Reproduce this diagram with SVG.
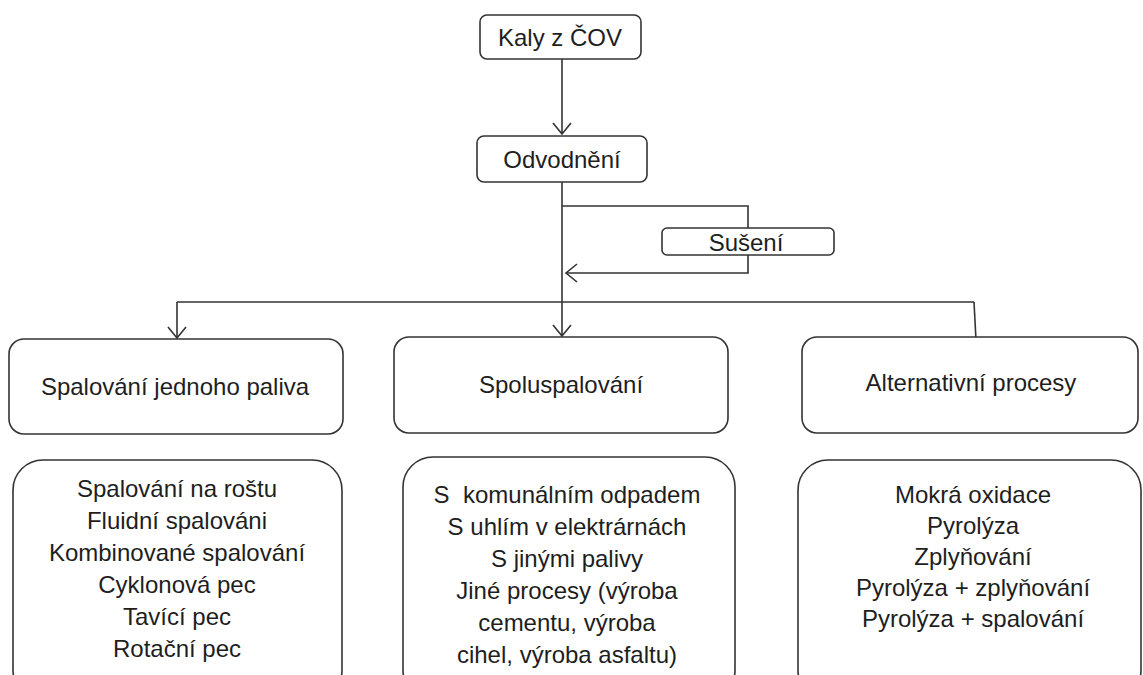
<svg xmlns="http://www.w3.org/2000/svg" width="1143" height="675" viewBox="0 0 1143 675">
<style>
.box{fill:#fff;stroke:#333;stroke-width:1.6}
.t{font-family:"Liberation Sans",Arial,sans-serif;font-size:24px;fill:#1e1e1e;text-anchor:middle}
.c{fill:none;stroke:#333;stroke-width:1.6}
</style>
<defs>
<marker id="arr" markerWidth="24" markerHeight="24" refX="12" refY="12" orient="auto" markerUnits="userSpaceOnUse">
<path d="M1,3 L12,12 L1,21" fill="none" stroke="#333" stroke-width="1.6"/>
</marker>
</defs>
<rect width="1143" height="675" fill="#fff"/>
<g id="connectors">
<path class="c" d="M562,59 V134" marker-end="url(#arr)"/>
<path class="c" d="M562,182 V336" marker-end="url(#arr)"/>
<path class="c" d="M562,206 H748 V273 H566" marker-end="url(#arr)"/>
<path class="c" d="M177,302 H974"/>
<path class="c" d="M177,302 V338" marker-end="url(#arr)"/>
<path class="c" d="M974,302 L976,340"/>
</g>
<g id="kaly"><rect class="box" x="480" y="15" width="161" height="44" rx="7"/><text class="t" x="560" y="46">Kaly z ČOV</text></g>
<g id="odvodneni"><rect class="box" x="477" y="136" width="170" height="46" rx="7"/><text class="t" x="562" y="168">Odvodnění</text></g>
<g id="suseni"><rect class="box" x="662" y="228" width="172" height="27" rx="5"/><text class="t" x="746" y="251">Sušení</text></g>
<g id="spalovani"><rect class="box" x="9" y="339" width="334" height="95" rx="15"/><text class="t" x="175" y="395">Spalování jednoho paliva</text></g>
<g id="spoluspalovani"><rect class="box" x="394" y="337" width="334" height="96" rx="15"/><text class="t" x="561" y="393">Spoluspalování</text></g>
<g id="alternativni"><rect class="box" x="802" y="337" width="336" height="96" rx="15"/><text class="t" x="971" y="391">Alternativní procesy</text></g>
<g id="list1"><rect class="box" x="13" y="460" width="329" height="240" rx="30"/>
<text class="t" x="177"><tspan x="177" y="497">Spalování na roštu</tspan><tspan x="177" y="529">Fluidní spalováni</tspan><tspan x="177" y="561">Kombinované spalování</tspan><tspan x="177" y="593">Cyklonová pec</tspan><tspan x="177" y="625">Tavící pec</tspan><tspan x="177" y="657">Rotační pec</tspan></text></g>
<g id="list2"><rect class="box" x="403" y="457" width="332" height="243" rx="30"/>
<text class="t" x="567"><tspan x="567" y="503">S&#160; komunálním odpadem</tspan><tspan x="567" y="535">S uhlím v elektrárnách</tspan><tspan x="567" y="567">S jinými palivy</tspan><tspan x="567" y="599">Jiné procesy (výroba</tspan><tspan x="567" y="631">cementu, výroba</tspan><tspan x="567" y="663">cihel, výroba asfaltu)</tspan></text></g>
<g id="list3"><rect class="box" x="798" y="460" width="343" height="240" rx="30"/>
<text class="t" x="973"><tspan x="973" y="503">Mokrá oxidace</tspan><tspan x="973" y="534">Pyrolýza</tspan><tspan x="973" y="565">Zplyňování</tspan><tspan x="973" y="596">Pyrolýza + zplyňování</tspan><tspan x="973" y="627">Pyrolýza + spalování</tspan></text></g>
</svg>
